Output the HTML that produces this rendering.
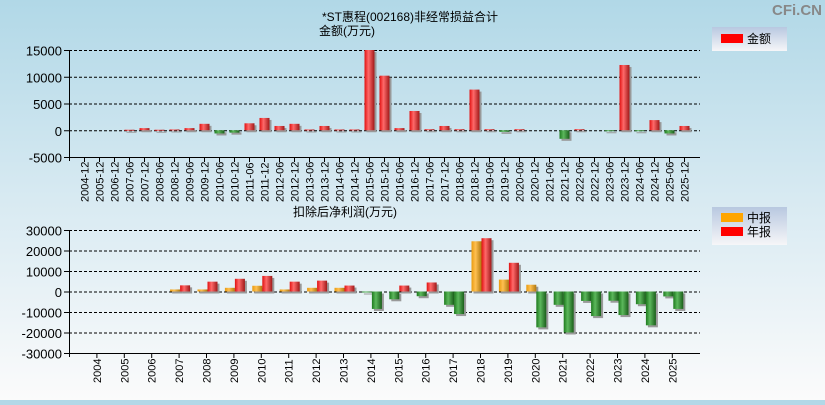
<!DOCTYPE html>
<html><head><meta charset="utf-8"><style>
html,body{margin:0;padding:0}
body{width:825px;height:400px;overflow:hidden;background:linear-gradient(#b1d8e7,#d8eaf2 50%,#fbfbfb);font-family:"Liberation Sans","Noto Sans CJK SC",sans-serif}
svg text{font-family:"Liberation Sans","Noto Sans CJK SC",sans-serif}
</style></head><body>
<svg id="c" width="825" height="400">
<defs>
<linearGradient id="gr" x1="0" x2="1"><stop offset="0" stop-color="#e01010"/><stop offset="0.4" stop-color="#ff6a6a"/><stop offset="1" stop-color="#a01818"/></linearGradient>
<linearGradient id="gg" x1="0" x2="1"><stop offset="0" stop-color="#1e7a1e"/><stop offset="0.4" stop-color="#5cb85c"/><stop offset="1" stop-color="#1a5e1a"/></linearGradient>
<linearGradient id="go" x1="0" x2="1"><stop offset="0" stop-color="#e89a10"/><stop offset="0.4" stop-color="#ffc050"/><stop offset="1" stop-color="#b07810"/></linearGradient>
<linearGradient id="lg" x1="0" y1="0" x2="0" y2="1"><stop offset="0" stop-color="#b8c8e0"/><stop offset="1" stop-color="#f6f6f8"/></linearGradient>
</defs>
<text x="797" y="15" font-size="15" font-weight="bold" fill="#888" text-anchor="middle">CFi.CN</text>
<text x="410" y="21" font-size="12" text-anchor="middle">*ST惠程(002168)非经常损益合计</text>
<text x="347" y="35" font-size="12" text-anchor="middle">金额(万元)</text>
<text x="345" y="216" font-size="12" text-anchor="middle">扣除后净利润(万元)</text>
<g>
<rect x="712" y="27" width="75" height="24" fill="url(#lg)"/>
<rect x="721" y="34" width="22" height="9" fill="#f00"/>
<text x="747" y="43" font-size="12">金额</text>
</g>
<g>
<rect x="712" y="207" width="75" height="38" fill="url(#lg)"/>
<rect x="721" y="213" width="22" height="9" fill="#ffa500"/>
<text x="747" y="222" font-size="12">中报</text>
<rect x="721" y="227" width="22" height="9" fill="#f00"/>
<text x="747" y="236" font-size="12">年报</text>
</g>
<g id="top"></g><g id="bot"></g>
</svg>
<script>
const topCats=["2004-12","2005-12","2006-12","2007-06","2007-12","2008-06","2008-12","2009-06","2009-12","2010-06","2010-12","2011-06","2011-12","2012-06","2012-12","2013-06","2013-12","2014-06","2014-12","2015-06","2015-12","2016-06","2016-12","2017-06","2017-12","2018-06","2018-12","2019-06","2019-12","2020-06","2020-12","2021-06","2021-12","2022-06","2022-12","2023-06","2023-12","2024-06","2024-12","2025-06","2025-12"];
const topVals=[0,0,0,100,400,100,150,400,1200,-600,-450,1300,2300,800,1200,150,800,150,150,15000,10200,400,3600,200,800,200,7600,200,-300,200,0,0,-1600,200,0,-150,12200,-150,1900,-600,800];
const topTicks=[15000,10000,5000,0,-5000];
const botCats=["2004","2005","2006","2007","2008","2009","2010","2011","2012","2013","2014","2015","2016","2017","2018","2019","2020","2021","2022","2023","2024","2025"];
const midVals=[0,0,0,1000,1000,1800,2800,1000,1800,1800,-200,-3800,-2300,-6500,24500,5800,3300,-6500,-4600,-4500,-6200,-2400];
const annVals=[0,0,0,3000,4800,6200,7600,4800,5300,2900,-8500,2900,4400,-11000,26000,14000,-17500,-20000,-12000,-11500,-16500,-8500];
const botTicks=[30000,20000,10000,0,-10000,-20000,-30000];
const NS='http://www.w3.org/2000/svg';
function mk(p,t,a){const e=document.createElementNS(NS,t);for(const k in a)e.setAttribute(k,a[k]);p.appendChild(e);return e;}
function axes(g,x0,x1,yMax,yMin,y0,y1,ticks,name){
  const ys=v=>y0+(yMax-v)/(yMax-yMin)*(y1-y0);
  ticks.forEach(t=>{
    const y=ys(t)+0.5;
    if(t!==yMin){const l=mk(g,'line',{x1:x0,x2:x1,y1:y,y2:y,stroke:'#000','stroke-dasharray':'3,2'});
    
    }
    mk(g,'line',{x1:x0-5,x2:x0,y1:y,y2:y,stroke:'#000'});
    const tx=mk(g,'text',{x:x0-7,y:y+5,'font-size':'13','text-anchor':'end',fill:'#000'});tx.textContent=t;
    
    
  });
  mk(g,'line',{x1:x0+0.5,x2:x0+0.5,y1:y0,y2:y1+4,stroke:'#000'});
  mk(g,'line',{x1:x0,x2:x1,y1:y1+0.5,y2:y1+0.5,stroke:'#000'});
  return ys;
}
function bar(g,x,w,v,ys,pos,name){
  const z=ys(0),y=ys(v);const top=Math.min(z,y),h=Math.max(Math.abs(y-z),1);
  mk(g,'rect',{x:x+2,y:top+2,width:w,height:h,fill:'#999'});
  const r=mk(g,'rect',{x:x,y:top,width:w,height:h,fill:v<0?'url(#gg)':pos});
  
  
}
const tg=document.getElementById('top');
const tys=axes(tg,69,700,15000,-5000,50,157,topTicks,'top');
const tstep=15;
topCats.forEach((c,i)=>{
  const cx=69.5+(i+1)*tstep;
  mk(tg,'line',{x1:cx,x2:cx,y1:157,y2:162,stroke:'#000'});
  const t=mk(tg,'text',{transform:`translate(${cx+4},202) rotate(-90)`,'font-size':'11',fill:'#000'});t.textContent=c;
  
  
  if(topVals[i]!==0)bar(tg,cx-5,10,topVals[i],tys,'url(#gr)','bar-'+c);
});
const bg=document.getElementById('bot');
const bys=axes(bg,69,700,30000,-30000,230,353,botTicks,'bottom');
const bstep=27.4;
botCats.forEach((c,i)=>{
  const cx=69.5+(i+1)*bstep;
  mk(bg,'line',{x1:cx,x2:cx,y1:353,y2:358,stroke:'#000'});
  const t=mk(bg,'text',{transform:`translate(${cx+4},383) rotate(-90)`,'font-size':'11',fill:'#000'});t.textContent=c;
  
  
  if(midVals[i]!==0)bar(bg,cx-9,10,midVals[i],bys,'url(#go)','mid-bar-'+c);
  if(annVals[i]!==0)bar(bg,cx+1,10,annVals[i],bys,'url(#gr)','annual-bar-'+c);
});
</script>
</body></html>
